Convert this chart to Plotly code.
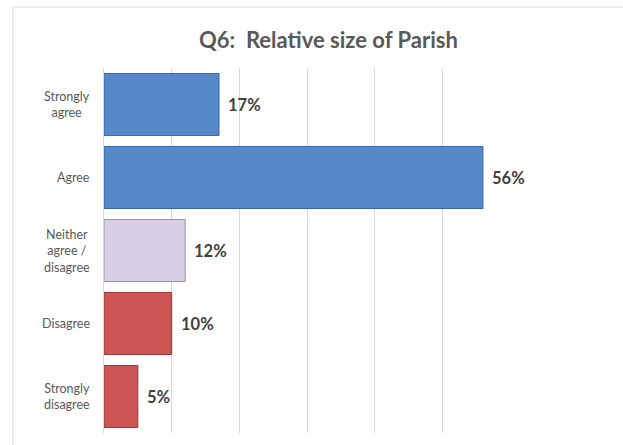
import plotly.graph_objects as go

categories = ["Strongly agree", "Agree", "Neither agree / disagree", "Disagree", "Strongly disagree"]
cat_labels = ["Strongly<br>agree", "Agree", "Neither<br>agree /<br>disagree", "Disagree", "Strongly<br>disagree"]
values = [0.17, 0.56, 0.12, 0.10, 0.05]
value_labels = ["17%", "56%", "12%", "10%", "5%"]
fill_colors = ["#5589C9", "#5589C9", "#D8CFE7", "#CD5553", "#CD5553"]
line_colors = ["#3A66A0", "#3A66A0", "#9A8DB3", "#943634", "#943634"]
x_ticks = [0, 0.1, 0.2, 0.3, 0.4, 0.5, 0.6]

FONT = "Lato"

fig = go.Figure()
fig.add_trace(go.Bar(
    y=categories, x=values, orientation="h",
    marker=dict(color=fill_colors, line=dict(color=line_colors, width=1)),
    hoverinfo="skip",
))

ann = []
for c, lab in zip(categories, cat_labels):
    ann.append(dict(xref="paper", yref="y", x=0, y=c, xshift=-12, xanchor="right",
                    align="center", text=lab, showarrow=False,
                    font=dict(family=FONT, size=12.5, color="#595959")))
for c, v, t in zip(categories, values, value_labels):
    ann.append(dict(xref="x", yref="y", x=v, y=c, xshift=7, xanchor="left",
                    text="<b>%s</b>" % t, showarrow=False,
                    font=dict(family=FONT, size=16.5, color="#404040")))
ann.append(dict(xref="paper", yref="paper", x=0.552, y=1.077, xanchor="center", yanchor="middle",
                text="<b>Q6:  Relative size of Parish</b>", showarrow=False,
                font=dict(family=FONT, size=22, color="#595959")))

fig.update_layout(
    width=623, height=445,
    margin=dict(l=104, r=113, t=68, b=12),
    paper_bgcolor="white", plot_bgcolor="white",
    showlegend=False,
    bargap=0.15,
    annotations=ann,
    xaxis=dict(range=[0, 0.6], tickvals=x_ticks, showticklabels=False, showgrid=True,
               gridcolor="#D9D9D9", gridwidth=1, zeroline=False, showline=False, fixedrange=True),
    yaxis=dict(categoryorder="array", categoryarray=categories, autorange="reversed",
               showticklabels=False, showgrid=False, zeroline=False,
               showline=True, linecolor="#D9D9D9", linewidth=1, fixedrange=True),
    shapes=[
        dict(type="line", xref="paper", yref="paper", x0=-0.224, x1=1.3, y0=1.167, y1=1.167,
             line=dict(color="#D9D9D9", width=1)),
        dict(type="line", xref="paper", yref="paper", x0=-0.224, x1=-0.224, y0=1.167, y1=-0.05,
             line=dict(color="#D9D9D9", width=1)),
    ],
)

fig.write_html("out.html")
